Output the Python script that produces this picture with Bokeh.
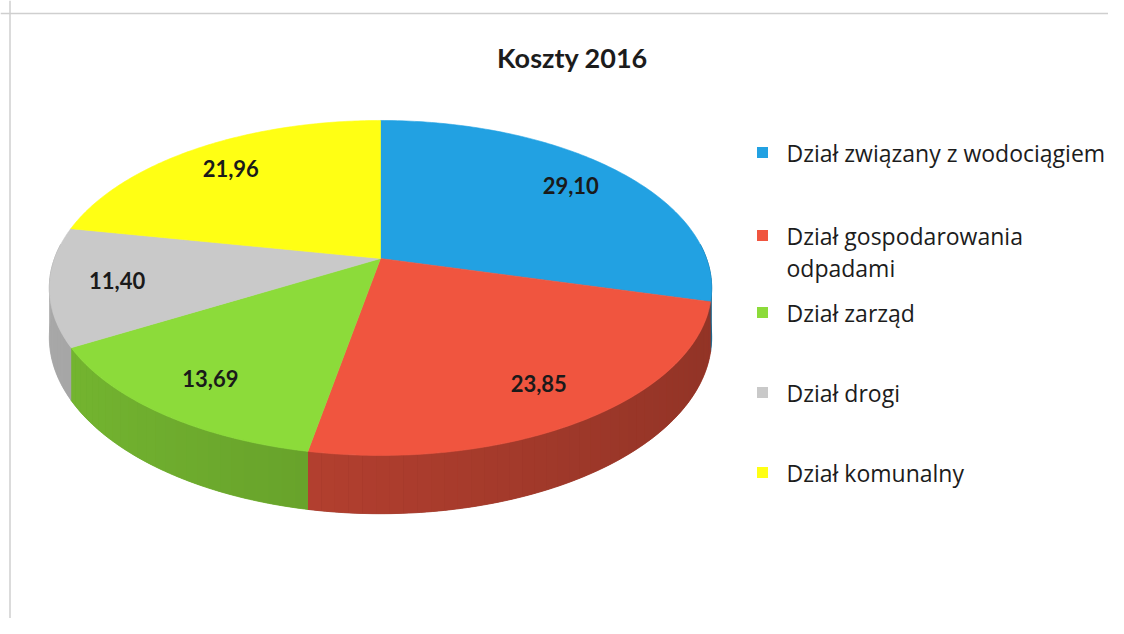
import numpy as np
from bokeh.plotting import figure
from bokeh.models import Range1d, Span
from bokeh.embed import file_html
from bokeh.resources import INLINE
from bokeh.core.properties import value

# ---------------- data ----------------
title = "Koszty 2016"
categories = ["Dział związany z wodociągiem", "Dział gospodarowania\nodpadami",
              "Dział zarząd", "Dział drogi", "Dział komunalny"]
values = [29.10, 23.85, 13.69, 11.40, 21.96]
value_labels = ["29,10", "23,85", "13,69", "11,40", "21,96"]
colors = ["#22A1E2", "#F0553F", "#8CDB3A", "#C9C9C9", "#FFFF14"]

# ---------------- layout / style ----------------
W, H = 1108, 618
TITLE_FONT = "Lato"
LEG_FONT = "Open Sans"
CX, CY, RX, RY, K, DEPTH = 380, 258, 326, 162.3, 0.176, 48
LABEL_R = 0.8

def hex2rgb(h):
    h = h.lstrip("#")
    return tuple(int(h[i:i + 2], 16) for i in (0, 2, 4))

def shade(h, f):
    r, g, b = hex2rgb(h)
    return "#%02x%02x%02x" % tuple(max(0, min(255, int(round(c * f)))) for c in (r, g, b))

def proj(theta_deg, r=1.0, drop=0.0):
    t = np.radians(theta_deg)
    z = -r * np.sin(t)
    s = 1.0 / (1.0 - K * z)
    x = CX + RX * r * np.cos(t) * s
    y = CY + RY * z * s + drop * s
    return x, y

p = figure(width=W, height=H, x_range=Range1d(0, W), y_range=Range1d(H, 0),
           output_backend="svg", toolbar_location=None, min_border=0,
           x_axis_type=None, y_axis_type=None)
p.grid.visible = False
p.outline_line_color = None
p.background_fill_color = "white"
p.border_fill_color = "white"

# chart frame (scan border)
p.add_layout(Span(location=13, dimension="width", line_color="#cfcfcf", line_width=1.5))
p.add_layout(Span(location=9.5, dimension="height", line_color="#cfcfcf", line_width=1.5))

total = float(sum(values))
cum = np.concatenate([[0.0], np.cumsum(values)])
starts = 90.0 - 360.0 * cum[:-1] / total
ends = 90.0 - 360.0 * cum[1:] / total

def visible_segments(a0, a1, lo_lim=-185.0, hi_lim=5.0):
    segs = []
    for off in (-360.0, 0.0, 360.0):
        lo, hi = max(a1 + off, lo_lim), min(a0 + off, hi_lim)
        if hi > lo:
            segs.append((lo, hi))
    return segs

# ---------------- side walls ----------------
base_xs, base_ys, base_cols = [], [], []
strips = []
for i in range(len(values)):
    for (lo_, hi_) in visible_segments(starts[i], ends[i]):
        th = np.linspace(lo_, hi_, 100)
        xt, yt = proj(th)
        xb, yb = proj(th[::-1], drop=DEPTH)
        base_xs.append(list(xt) + list(xb))
        base_ys.append(list(yt) + list(yb))
        tm = 0.5 * (lo_ + hi_)
        base_cols.append(shade(colors[i], 0.72 - 0.12 * np.cos(np.radians(tm))))
        n = max(2, int(np.ceil((hi_ - lo_) / 2.0)))
        edges = np.linspace(lo_, hi_, n + 1)
        for j in range(n):
            t0, t1 = edges[j], edges[j + 1]
            tmm = 0.5 * (t0 + t1)
            xt2, yt2 = proj(np.array([t0, t1]))
            xb2, yb2 = proj(np.array([t1, t0]), drop=DEPTH)
            f = 0.72 - 0.12 * np.cos(np.radians(tmm))
            strips.append((list(xt2) + list(xb2), list(yt2) + list(yb2), shade(colors[i], f)))
p.patches(xs=base_xs, ys=base_ys, fill_color=base_cols, line_color=base_cols, line_width=0.8)
p.patches(xs=[s[0] for s in strips], ys=[s[1] for s in strips],
          fill_color=[s[2] for s in strips], line_color=None)

# ---------------- top face ----------------
xs, ys = [], []
for i in range(len(values)):
    th = np.linspace(starts[i], ends[i], 120)
    x, y = proj(th)
    xs.append([CX] + list(x))
    ys.append([CY] + list(y))
p.patches(xs=xs, ys=ys, fill_color=colors, line_color=colors, line_width=0.6)

# ---------------- data labels ----------------
mids = 0.5 * (starts + ends)
lx, ly = proj(mids, r=LABEL_R)
p.text(x=list(lx), y=list(ly), text=value_labels, text_font=value(TITLE_FONT),
       text_font_style="bold", text_font_size="22px", text_color="#1a1a1a",
       text_align="center", text_baseline="middle")

# ---------------- title ----------------
p.text(x=[572], y=[57], text=[title], text_font=value(TITLE_FONT), text_font_style="bold",
       text_font_size="27px", text_color="#1c1c1c", text_align="center", text_baseline="middle")

# ---------------- legend ----------------
LEG_X, LEG_Y0, LEG_STEP, SQ = 762, 152, 80, 11
leg_y = [LEG_Y0 + LEG_STEP * i for i in range(len(categories))]
leg_y[1] += 3
p.rect(x=[LEG_X] * len(categories), y=leg_y, width=SQ, height=SQ, fill_color=colors,
       line_color=None)
p.text(x=[LEG_X + 24] * len(categories), y=[yy - 16 for yy in leg_y], text=categories,
       text_font=value(LEG_FONT), text_font_size="23px", text_color="#1c1c1c",
       text_align="left", text_baseline="top", text_line_height=1.0)

open("out.html", "w").write(file_html(p, INLINE))
